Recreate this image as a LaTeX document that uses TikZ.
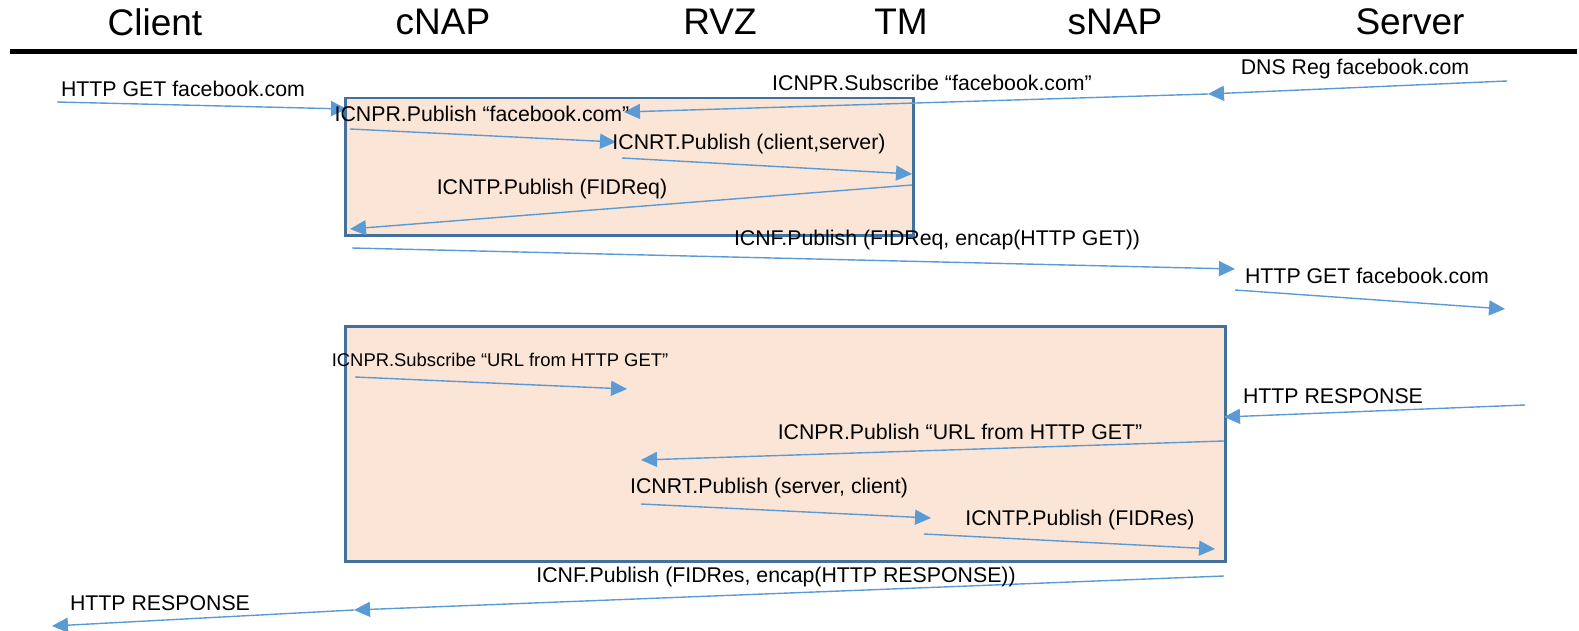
\documentclass[tikz,border=0pt]{standalone}
\usepackage{fontspec}
\setmainfont{Liberation Sans}
\usetikzlibrary{arrows.meta}
\definecolor{msgblue}{HTML}{5B9BD5}
\definecolor{boxfill}{HTML}{FBE5D6}
\definecolor{boxedge}{HTML}{41719C}
\tikzset{
  role/.style={font=\fontsize{37}{40}\selectfont, inner sep=0pt},
  lbl/.style={font=\fontsize{21.3}{24}\selectfont, inner sep=0pt},
  lblsmall/.style={font=\fontsize{18.4}{21}\selectfont, inner sep=0pt},
  msg/.style={draw=msgblue, line width=1.4pt, -{Triangle[length=16pt,width=15pt]}},
  group/.style={draw=boxedge, line width=2.5pt, fill=boxfill, anchor=north west, inner sep=0pt}
}
\begin{document}
\begin{tikzpicture}[x=1pt, y=-1pt]
\useasboundingbox (0,0) rectangle (1579,631);

% role headings and the rule under them
\node[role] (client) at (155,22) {Client};
\node[role] (cnap)   at (443,22) {cNAP};
\node[role] (rvz)    at (720,22) {RVZ};
\node[role] (tm)     at (901,22) {TM};
\node[role] (snap)   at (1115,22) {sNAP};
\node[role] (server) at (1410,22) {Server};
\coordinate (ruleL) at (10,52);
\coordinate (ruleR) at (1577,52);
\draw[line width=5pt] (ruleL) -- (ruleR);

% grouping boxes
\node[group, minimum width=568pt, minimum height=137pt] (reqbox) at (344,97) {};
\node[group, minimum width=880pt, minimum height=235pt] (resbox) at (344,325) {};

% end points of the messages
\coordinate (a1s) at (57,102);    \coordinate (a1e) at (347,109);
\coordinate (a2s) at (1507,81);   \coordinate (a2e) at (1208,94);
\coordinate (a3e) at (624,112);
\coordinate (a4s) at (350,129);   \coordinate (a4e) at (616,142);
\coordinate (a5s) at (622,158);   \coordinate (a5e) at (912,174);
\coordinate (a6s) at (912,185);   \coordinate (a6e) at (350,229);
\coordinate (a7s) at (352,248);   \coordinate (a7e) at (1235,269);
\coordinate (a8s) at (1235,290);  \coordinate (a8e) at (1505,309);
\coordinate (a9s) at (355,377);   \coordinate (a9e) at (627,389);
\coordinate (a10s) at (1525,405); \coordinate (a10e) at (1224,417);
\coordinate (a11s) at (1224,441); \coordinate (a11e) at (641,460);
\coordinate (a12s) at (641,504);  \coordinate (a12e) at (931,518);
\coordinate (a13s) at (924,534);  \coordinate (a13e) at (1215,549);
\coordinate (a14s) at (1224,576); \coordinate (a14e) at (354,610);
\coordinate (a15e) at (52,626);

% messages
\draw[msg] (a1s) -- (a1e);
\draw[msg] (a2s) -- (a2e);
\draw[msg] (a2e) -- (a3e);
\draw[msg] (a4s) -- (a4e);
\draw[msg] (a5s) -- (a5e);
\draw[msg] (a6s) -- (a6e);
\draw[msg] (a7s) -- (a7e);
\draw[msg] (a8s) -- (a8e);
\draw[msg] (a9s) -- (a9e);
\draw[msg] (a10s) -- (a10e);
\draw[msg] (a11s) -- (a11e);
\draw[msg] (a12s) -- (a12e);
\draw[msg] (a13s) -- (a13e);
\draw[msg] (a14s) -- (a14e);
\draw[msg] (a14e) -- (a15e);

% message labels
\node[lbl] (l1)  at (183,89)   {HTTP GET facebook.com};
\node[lbl] (l2)  at (1355,69)  {DNS Reg facebook.com};
\node[lbl] (l3)  at (932,83)   {ICNPR.Subscribe “facebook.com”};
\node[lbl] (l4)  at (482,114)  {ICNPR.Publish “facebook.com”};
\node[lbl] (l5)  at (749,144)  {ICNRT.Publish (client,server)};
\node[lbl] (l6)  at (552,189)  {ICNTP.Publish (FIDReq)};
\node[lbl] (l7)  at (937,240)  {ICNF.Publish (FIDReq, encap(HTTP GET))};
\node[lbl] (l8)  at (1367,276) {HTTP GET facebook.com};
\node[lblsmall] (l9) at (500,360) {ICNPR.Subscribe “URL from HTTP GET”};
\node[lbl] (l10) at (1333,396) {HTTP RESPONSE};
\node[lbl] (l11) at (960,432)  {ICNPR.Publish “URL from HTTP GET”};
\node[lbl] (l12) at (769,488)  {ICNRT.Publish (server, client)};
\node[lbl] (l13) at (1080,520) {ICNTP.Publish (FIDRes)};
\node[lbl] (l14) at (776,577)  {ICNF.Publish (FIDRes, encap(HTTP RESPONSE))};
\node[lbl] (l15) at (160,603)  {HTTP RESPONSE};
\end{tikzpicture}
\end{document}
